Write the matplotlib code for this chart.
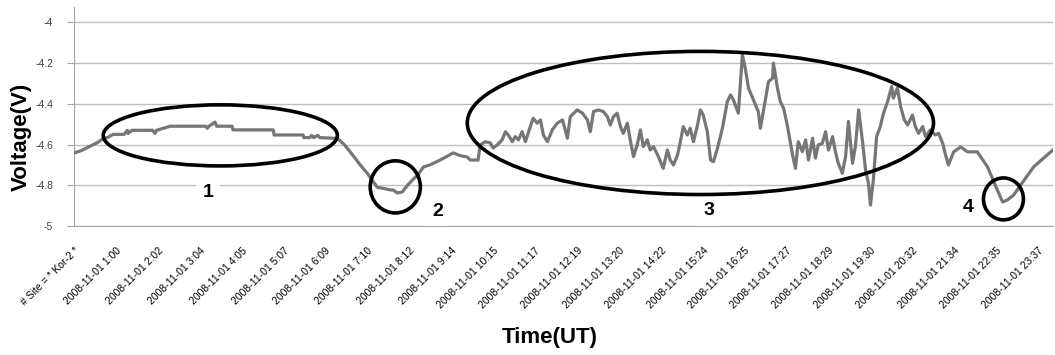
import matplotlib
matplotlib.use('Agg')
import matplotlib.pyplot as plt
from matplotlib.patches import Ellipse

# time in hours after 2008-11-01 00:00 UT, voltage
times = [0.00, 0.15, 0.25, 0.35, 0.45, 0.55, 0.69, 0.80, 0.93, 1.20, 1.28, 1.30, 1.40, 1.90, 1.96, 2.00,
         2.33, 3.20, 3.24, 3.28, 3.43, 3.47, 3.85, 3.87, 4.86, 4.88, 5.59, 5.61, 5.75, 5.80, 5.85, 5.95,
         6.00, 6.43, 6.60, 6.80, 6.99, 7.16, 7.41, 7.55, 7.73, 7.80, 7.90, 8.02, 8.15, 8.27, 8.40, 8.54,
         8.70, 8.95, 9.10, 9.27, 9.45, 9.61, 9.69, 9.88, 9.93, 10.06, 10.18, 10.25, 10.35, 10.47, 10.55,
         10.62, 10.72, 10.79, 10.87, 10.96, 11.04, 11.16, 11.23, 11.33, 11.41, 11.48, 11.58, 11.70, 11.82,
         11.95, 12.07, 12.14, 12.31, 12.44, 12.56, 12.63, 12.71, 12.83, 12.95, 13.05, 13.12, 13.20, 13.29,
         13.37, 13.44, 13.54, 13.61, 13.69, 13.78, 13.86, 13.93, 14.03, 14.10, 14.18, 14.30, 14.42, 14.52,
         14.59, 14.67, 14.77, 14.84, 14.91, 15.01, 15.08, 15.16, 15.26, 15.33, 15.40, 15.50, 15.58, 15.65,
         15.75, 15.87, 15.99, 16.07, 16.14, 16.26, 16.36, 16.43, 16.51, 16.63, 16.75, 16.80, 16.88, 17.00,
         17.10, 17.12, 17.22, 17.29, 17.37, 17.46, 17.59, 17.66, 17.73, 17.83, 17.91, 17.98, 18.08, 18.15,
         18.22, 18.32, 18.40, 18.47, 18.57, 18.64, 18.71, 18.81, 18.89, 18.96, 19.06, 19.13, 19.21, 19.30,
         19.38, 19.45, 19.50, 19.57, 19.65, 19.74, 19.82, 19.92, 20.02, 20.06, 20.16, 20.24, 20.33, 20.41,
         20.53, 20.60, 20.68, 20.78, 20.85, 20.97, 21.09, 21.17, 21.27, 21.34, 21.41, 21.54, 21.71, 21.88,
         22.12, 22.37, 22.61, 22.74, 22.86, 23.01, 23.18, 23.50, 23.97]
volts = [-4.64, -4.63, -4.62, -4.61, -4.60, -4.59, -4.57, -4.565, -4.55, -4.55, -4.53, -4.545, -4.53,
         -4.53, -4.545, -4.53, -4.51, -4.51, -4.52, -4.51, -4.49, -4.51, -4.51, -4.528, -4.528, -4.553,
         -4.553, -4.566, -4.566, -4.555, -4.566, -4.555, -4.566, -4.57, -4.60, -4.65, -4.70, -4.74, -4.81,
         -4.815, -4.823, -4.823, -4.838, -4.833, -4.80, -4.774, -4.75, -4.71, -4.70, -4.676, -4.66, -4.641,
         -4.655, -4.661, -4.676, -4.676, -4.602, -4.586, -4.592, -4.617, -4.602, -4.577, -4.537, -4.553,
         -4.586, -4.561, -4.577, -4.537, -4.586, -4.512, -4.471, -4.495, -4.479, -4.553, -4.586, -4.528,
         -4.495, -4.479, -4.569, -4.463, -4.430, -4.446, -4.479, -4.537, -4.438, -4.430, -4.438, -4.463,
         -4.504, -4.463, -4.446, -4.512, -4.545, -4.495, -4.577, -4.659, -4.602, -4.528, -4.610, -4.577,
         -4.627, -4.610, -4.659, -4.717, -4.627, -4.676, -4.700, -4.651, -4.586, -4.512, -4.553, -4.520,
         -4.586, -4.504, -4.430, -4.455, -4.537, -4.676, -4.684, -4.618, -4.520, -4.389, -4.356, -4.381,
         -4.446, -4.160, -4.225, -4.323, -4.381, -4.438, -4.520, -4.430, -4.291, -4.274, -4.200, -4.323,
         -4.389, -4.422, -4.504, -4.651, -4.717, -4.586, -4.635, -4.577, -4.676, -4.569, -4.667, -4.602,
         -4.594, -4.537, -4.627, -4.561, -4.635, -4.692, -4.741, -4.659, -4.487, -4.692, -4.610, -4.430,
         -4.577, -4.725, -4.790, -4.897, -4.774, -4.561, -4.512, -4.446, -4.389, -4.315, -4.372, -4.323,
         -4.414, -4.479, -4.504, -4.455, -4.512, -4.545, -4.512, -4.561, -4.528, -4.553, -4.545, -4.594,
         -4.651, -4.700, -4.636, -4.612, -4.636, -4.636, -4.710, -4.823, -4.882, -4.872, -4.848, -4.799,
         -4.710, -4.627]

# category labels every 37 samples (100 s sampling), first one is the file header
tick_labels = ['# Site = * Kor-2 *', '2008-11-01 1:00', '2008-11-01 2:02', '2008-11-01 3:04',
               '2008-11-01 4:05', '2008-11-01 5:07', '2008-11-01 6:09', '2008-11-01 7:10',
               '2008-11-01 8:12', '2008-11-01 9:14', '2008-11-01 10:15', '2008-11-01 11:17',
               '2008-11-01 12:19', '2008-11-01 13:20', '2008-11-01 14:22', '2008-11-01 15:24',
               '2008-11-01 16:25', '2008-11-01 17:27', '2008-11-01 18:29', '2008-11-01 19:30',
               '2008-11-01 20:32', '2008-11-01 21:34', '2008-11-01 22:35', '2008-11-01 23:37']
tick_pos = [(37 * k - 1) / 36 for k in range(len(tick_labels))]

y_ticks = [-5, -4.8, -4.6, -4.4, -4.2, -4]
y_labels = ['-5', '-4.8', '-4.6', '-4.4', '-4.2', '-4']

# marked regions: (center time, center volt, width h, height V, label, label time, label volt)
regions = [
    (3.56, -4.555, 5.74, 0.30, '1', 3.26, -4.835),
    (7.85, -4.808, 1.23, 0.256, '2', 8.88, -4.93),
    (15.33, -4.494, 11.43, 0.703, '3', 15.53, -4.926),
    (22.76, -4.867, 0.98, 0.206, '4', 21.90, -4.907),
]

plt.rcParams['font.family'] = ['Liberation Sans', 'DejaVu Sans']

fig = plt.figure(figsize=(10.55, 3.55), dpi=100)
ax = fig.add_axes([0.0701, 0.3634, 0.9279, 0.6166])

ax.plot(times, volts, color='#767676', lw=2.3, zorder=3)

for cx, cy, w, h, lab, lx, ly in regions:
    ax.add_patch(Ellipse((cx, cy), w, h, fill=False, edgecolor='black', lw=2.6, zorder=4, clip_on=False))
    # white box only hides the gridlines behind the number
    ax.text(lx, ly, lab, fontsize=14, fontweight='bold', ha='center', va='center', zorder=2,
            bbox=dict(facecolor='white', edgecolor='none', pad=5))

ax.set_xlim(-1 / 36, 863 / 36)
ax.set_ylim(-5, -3.925)
ax.set_yticks(y_ticks)
ax.set_yticklabels(y_labels, fontsize=7.5, color='#404040')
ax.set_xticks(tick_pos)
ax.set_xticklabels(tick_labels, fontsize=7.5, rotation=45, ha='right', va='top', rotation_mode='anchor')
ax.tick_params(axis='x', length=0, pad=14)
ax.tick_params(axis='y', length=5, color='#a6a6a6', pad=10)
ax.grid(axis='y', color='#bfbfbf', lw=1, zorder=1)
ax.spines['top'].set_visible(False)
ax.spines['right'].set_visible(False)
ax.spines['left'].set_color('#a6a6a6')
ax.spines['bottom'].set_color('#a6a6a6')

fig.text(21 / 1055, 1 - 137 / 355, 'Voltage(V)', fontsize=16, fontweight='bold', rotation=90,
         ha='center', va='center')
fig.text(550 / 1055, 1 - 337 / 355, 'Time(UT)', fontsize=16, fontweight='bold', ha='center', va='center')

fig.savefig('out.png', dpi=100)
